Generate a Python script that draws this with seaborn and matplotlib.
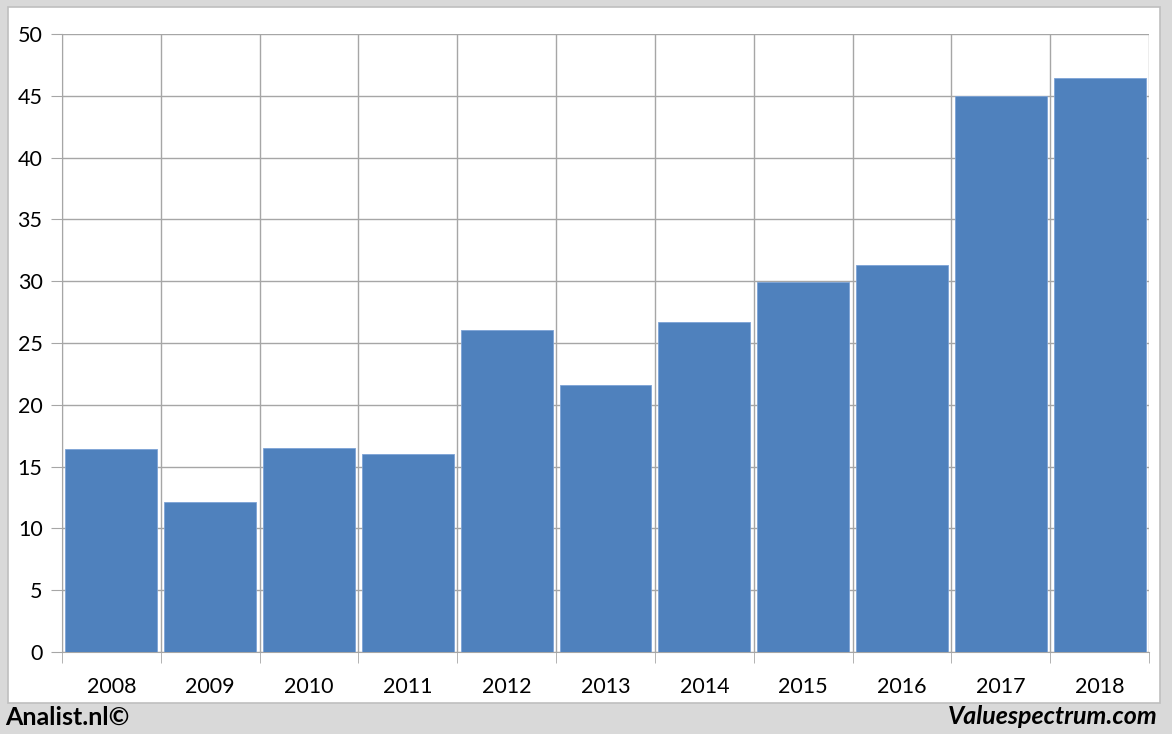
import pandas as pd
import seaborn as sns
import matplotlib.pyplot as plt
from matplotlib.patches import Rectangle
from matplotlib.ticker import MultipleLocator, FixedLocator

# Data
years = ['2008', '2009', '2010', '2011', '2012', '2013', '2014', '2015', '2016', '2017', '2018']
values = [16.4, 12.1, 16.5, 16.0, 26.05, 21.6, 26.7, 29.95, 31.3, 45.0, 46.4]

df = pd.DataFrame({'year': years, 'value': values})

sns.set_style('white')
plt.rcParams['font.family'] = ['Lato', 'DejaVu Sans']

fig = plt.figure(figsize=(11.72, 7.34), dpi=100)
fig.patch.set_facecolor('#d9d9d9')
# white chart panel
fig.patches.append(Rectangle((8 / 1172, 31 / 734), 1152 / 1172, 696 / 734,
                             transform=fig.transFigure, facecolor='white',
                             edgecolor='#bfbfbf', linewidth=1.2, zorder=-5))

ax = fig.add_axes([62 / 1172, 82 / 734, 1087 / 1172, 618 / 734])
ax.set_facecolor('white')
sns.barplot(data=df, x='year', y='value', color='#4f81bd', saturation=1,
            width=0.93, edgecolor='#7da3d6', linewidth=0.6, ax=ax, zorder=3)

ax.set_xlim(-0.5, len(years) - 0.5)
ax.set_ylim(0, 50)
ax.yaxis.set_major_locator(MultipleLocator(5))
ax.xaxis.set_minor_locator(FixedLocator([i - 0.5 for i in range(len(years) + 1)]))

ax.grid(axis='y', which='major', color='#a6a6a6', linewidth=1, zorder=0)
ax.grid(axis='x', which='minor', color='#a6a6a6', linewidth=1, zorder=0)
ax.set_axisbelow(True)

for s in ['top', 'right']:
    ax.spines[s].set_visible(False)
ax.spines['left'].set_color('#a6a6a6')
ax.spines['bottom'].set_color('#a6a6a6')

ax.tick_params(axis='x', which='major', length=0, labelsize=15.5, pad=18, colors='black')
ax.tick_params(axis='x', which='minor', length=8, color='#a6a6a6', bottom=True)
ax.tick_params(axis='y', length=8, color='#a6a6a6', labelsize=15.5, pad=6, left=True,
               labelcolor='black')
ax.set_xlabel('')
ax.set_ylabel('')

fig.text(5 / 1172, 17 / 734, 'Analist.nl©', fontsize=18, fontweight='bold',
         ha='left', va='center', color='black')
fig.text(1158 / 1172, 17 / 734, 'Valuespectrum.com', fontsize=18, fontweight='bold',
         style='italic', ha='right', va='center', color='black')

fig.savefig('out.png', dpi=100, facecolor=fig.get_facecolor())
